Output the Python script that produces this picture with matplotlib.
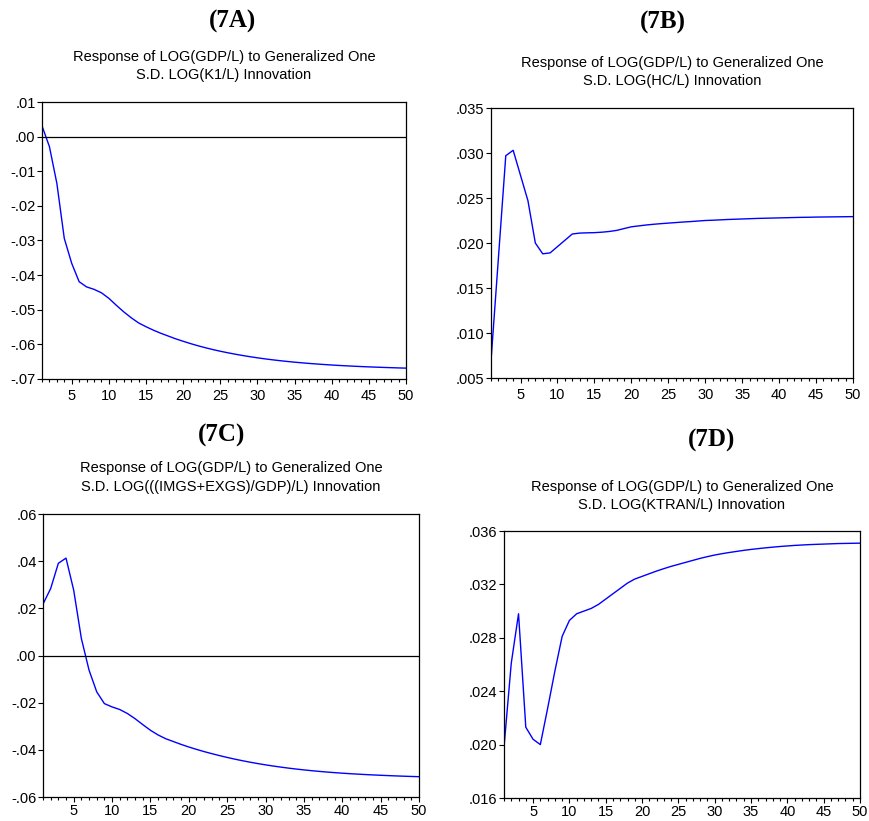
import numpy as np
import matplotlib
matplotlib.use('Agg')
import matplotlib.pyplot as plt
from matplotlib.ticker import FuncFormatter, MultipleLocator

# periods 1..50
periods = list(range(1, 51))

# response to K1/L
resp_k1 = [0.0031, -0.0029, -0.0135, -0.0294, -0.0366, -0.0419, -0.0434, -0.0441, -0.0451, -0.0467,
           -0.0487, -0.0506, -0.0523, -0.0538, -0.0549, -0.0559, -0.0568, -0.0576, -0.0584, -0.0591,
           -0.05978, -0.06040, -0.06097, -0.06150, -0.06198, -0.06242, -0.06283, -0.06321, -0.06356, -0.06388,
           -0.06418, -0.06445, -0.06470, -0.06493, -0.06514, -0.06533, -0.06551, -0.06567, -0.06582, -0.06596,
           -0.06609, -0.06620, -0.06631, -0.06641, -0.06650, -0.06658, -0.06666, -0.06673, -0.06680, -0.06686]

# response to HC/L
resp_hc = [0.0069, 0.0183, 0.0297, 0.0303, 0.0275, 0.0247, 0.0200, 0.0188, 0.0189, 0.0196,
           0.0203, 0.0210, 0.02110, 0.02113, 0.02115, 0.02120, 0.02128, 0.02140, 0.02160, 0.02180,
           0.02190, 0.02200, 0.02208, 0.02215, 0.02221, 0.02227, 0.02233, 0.02238, 0.02244, 0.02250,
           0.02253, 0.02257, 0.02261, 0.02264, 0.02267, 0.02270, 0.02273, 0.02275, 0.02277, 0.02279,
           0.02281, 0.02283, 0.02285, 0.02286, 0.02288, 0.02289, 0.02290, 0.02291, 0.02292, 0.02293]

# response to trade openness
resp_trade = [0.0218, 0.0284, 0.0391, 0.0413, 0.0277, 0.0072, -0.0062, -0.0154, -0.0204, -0.0218,
              -0.0229, -0.0246, -0.0268, -0.0293, -0.0317, -0.0337, -0.0353, -0.0365, -0.0377, -0.0388,
              -0.03980, -0.04075, -0.04162, -0.04245, -0.04322, -0.04395, -0.04462, -0.04525, -0.04583, -0.04637,
              -0.04687, -0.04733, -0.04776, -0.04815, -0.04851, -0.04884, -0.04914, -0.04942, -0.04967, -0.04990,
              -0.05011, -0.05030, -0.05048, -0.05064, -0.05079, -0.05093, -0.05106, -0.05118, -0.05129, -0.05139]

# response to KTRAN/L
resp_ktran = [0.0198, 0.0261, 0.0298, 0.0213, 0.0204, 0.0200, 0.0227, 0.0255, 0.0281, 0.0293,
              0.0298, 0.0300, 0.0302, 0.0305, 0.0309, 0.0313, 0.0317, 0.0321, 0.0324, 0.03260,
              0.03280, 0.03300, 0.03318, 0.03335, 0.03350, 0.03365, 0.03380, 0.03395, 0.03408, 0.03420,
              0.03430, 0.03439, 0.03447, 0.03455, 0.03462, 0.03468, 0.03474, 0.03479, 0.03484, 0.03488,
              0.03492, 0.03495, 0.03498, 0.03500, 0.03502, 0.03504, 0.03506, 0.03507, 0.03508, 0.03509]

labels = ['(7A)', '(7B)', '(7C)', '(7D)']
sub_line1 = 'Response of LOG(GDP/L) to Generalized One'
sub_line2 = ['S.D. LOG(K1/L) Innovation',
             'S.D. LOG(HC/L) Innovation',
             'S.D. LOG(((IMGS+EXGS)/GDP)/L) Innovation',
             'S.D. LOG(KTRAN/L) Innovation']

W, H = 869, 821
fig = plt.figure(figsize=(W / 100, H / 100), dpi=100)

# panel boxes in pixels: left, right, top, bottom
boxes = [(42, 406, 102, 379), (491, 853, 108, 378), (43, 419, 514, 797), (504, 860, 531, 798)]
ylims = [(-0.07, 0.01), (0.005, 0.035), (-0.06, 0.06), (0.016, 0.036)]
ysteps = [0.01, 0.005, 0.02, 0.004]
ydigits = [2, 3, 2, 3]
label_pos = [(233, 21), (663, 22), (222, 435), (712, 440)]
# x centre, line1 y, line2 y
sub_pos = [(224, 57, 75), (672, 63, 81), (231, 468, 487), (682, 487, 505)]
xpads = [3.6, 3.6, 1.5, 1.5]
series = [resp_k1, resp_hc, resp_trade, resp_ktran]


def fmt_factory(nd):
    def f(v, pos):
        s = f'{abs(v):.{nd}f}'.lstrip('0')
        if round(v, nd + 2) < 0:
            s = '-' + s
        return s
    return f


for i in range(4):
    l, r, t, b = boxes[i]
    ax = fig.add_axes([l / W, 1 - b / H, (r - l) / W, (b - t) / H])
    ax.plot(periods, series[i], color='#0000ff', lw=1.0)
    lo, hi = ylims[i]
    if lo < 0 < hi:
        ax.axhline(0, color='black', lw=0.9)
    ax.set_xlim(1, 50)
    ax.set_ylim(lo, hi)
    ax.xaxis.set_major_locator(MultipleLocator(5))
    ax.xaxis.set_minor_locator(MultipleLocator(1))
    ax.set_yticks(np.arange(lo, hi + ysteps[i] / 2, ysteps[i]))
    ax.yaxis.set_major_formatter(FuncFormatter(fmt_factory(ydigits[i])))
    ax.tick_params(axis='x', which='major', direction='out', length=3.6, width=0.8,
                   labelsize=10.5, pad=xpads[i], top=False)
    ax.tick_params(axis='y', which='major', direction='out', length=3.6, width=0.8,
                   labelsize=10.5, pad=1, right=False)
    ax.tick_params(axis='x', which='minor', direction='out', length=2.2, width=0.8, top=False)
    ax.tick_params(axis='y', which='minor', left=False, right=False)
    for lab in ax.get_xticklabels() + ax.get_yticklabels():
        lab.set_fontfamily('Liberation Sans')
    for sp in ax.spines.values():
        sp.set_linewidth(0.9)

    fig.text(label_pos[i][0] / W, 1 - label_pos[i][1] / H, labels[i], ha='center', va='center',
             fontsize=18, fontweight='bold', family='Liberation Serif')
    cx, y1, y2 = sub_pos[i]
    fig.text(cx / W, 1 - y1 / H, sub_line1, ha='center', va='center',
             fontsize=10.5, family='Liberation Sans')
    fig.text(cx / W, 1 - y2 / H, sub_line2[i], ha='center', va='center',
             fontsize=10.5, family='Liberation Sans')

fig.savefig('out.png', dpi=100)
